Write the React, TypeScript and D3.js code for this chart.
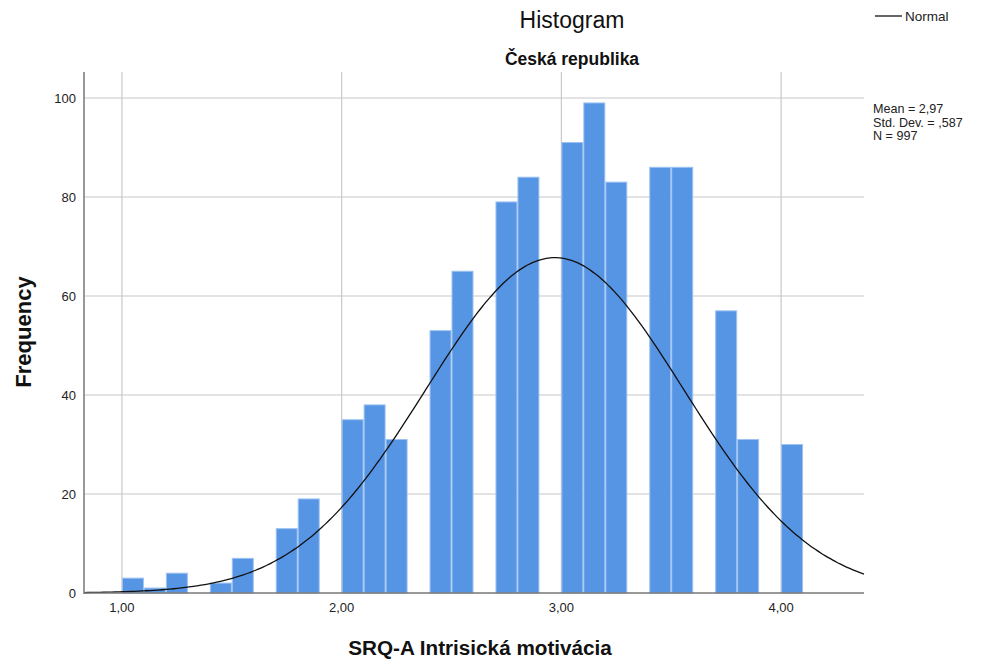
import { useEffect, useRef } from 'react';
import * as d3 from 'd3';

// bin lower edges (width 0.1) and counts
const binStarts = [1.0, 1.1, 1.2, 1.3, 1.4, 1.5, 1.6, 1.7, 1.8, 1.9, 2.0, 2.1, 2.2, 2.3, 2.4, 2.5, 2.6, 2.7, 2.8, 2.9, 3.0, 3.1, 3.2, 3.3, 3.4, 3.5, 3.6, 3.7, 3.8, 3.9, 4.0];
const binCounts = [3, 1, 4, 0, 2, 7, 0, 13, 19, 0, 35, 38, 31, 0, 53, 65, 0, 79, 84, 0, 91, 99, 83, 0, 86, 86, 0, 57, 31, 0, 30];
const binWidth = 0.1;

const xTicks = [1, 2, 3, 4];
const yTicks = [0, 20, 40, 60, 80, 100];

const mean = 2.97;
const stdDev = 0.587;
const n = 997;
const statLines = ['Mean = 2,97', 'Std. Dev. = ,587', 'N = 997'];

const W = 982;
const H = 662;
const FONT = '"Liberation Sans", Arial, sans-serif';

export default function App() {
  const svgRef = useRef<SVGSVGElement>(null);

  useEffect(() => {
    if (!svgRef.current) return;
    const svg = d3.select(svgRef.current);
    svg.selectAll('*').remove();

    const left = 84, right = 864, top = 72, bottom = 593;

    const x = d3.scaleLinear().domain([0.8273, 4.3773]).range([left, right]);
    const y = d3.scaleLinear().domain([0, 100]).range([bottom, 98]);

    const grid = svg.append('g');
    // horizontal gridlines
    grid.selectAll('line.h')
      .data(yTicks.filter(t => t > 0))
      .enter()
      .append('line')
      .attr('x1', left).attr('x2', right)
      .attr('y1', d => y(d)).attr('y2', d => y(d))
      .attr('stroke', '#c8c8c8').attr('stroke-width', 1.2);
    // vertical gridlines
    grid.selectAll('line.v')
      .data(xTicks)
      .enter()
      .append('line')
      .attr('x1', d => x(d)).attr('x2', d => x(d))
      .attr('y1', top).attr('y2', bottom)
      .attr('stroke', '#c8c8c8').attr('stroke-width', 1.2);

    // bars
    const bins = binStarts.map((s, i) => ({ s, c: binCounts[i] })).filter(d => d.c > 0);
    svg.append('g')
      .selectAll('rect')
      .data(bins)
      .enter()
      .append('rect')
      .attr('x', d => x(d.s) + 0.5)
      .attr('width', d => x(d.s + binWidth) - x(d.s) - 1)
      .attr('y', d => y(d.c))
      .attr('height', d => bottom - y(d.c))
      .attr('fill', '#5694e4')
      .attr('stroke', '#9cc2f2')
      .attr('stroke-width', 1);

    // fitted normal curve
    const [x0, x1] = x.domain();
    const xs = d3.range(0, 201).map(i => x0 + (x1 - x0) * i / 200);
    const expected = (v: number) =>
      n * binWidth * Math.exp(-0.5 * ((v - mean) / stdDev) ** 2) / (stdDev * Math.sqrt(2 * Math.PI));
    svg.append('path')
      .datum(xs)
      .attr('d', d3.line<number>().x(v => x(v)).y(v => y(expected(v))).curve(d3.curveBasis))
      .attr('fill', 'none')
      .attr('stroke', '#111')
      .attr('stroke-width', 1.3);

    // axis lines
    svg.append('line')
      .attr('x1', left).attr('x2', left).attr('y1', top).attr('y2', bottom + 1)
      .attr('stroke', '#777').attr('stroke-width', 1.5);
    svg.append('line')
      .attr('x1', left).attr('x2', right).attr('y1', bottom).attr('y2', bottom)
      .attr('stroke', '#777').attr('stroke-width', 1.5);

    // tick labels
    svg.append('g')
      .selectAll('text')
      .data(yTicks)
      .enter()
      .append('text')
      .attr('x', 76)
      .attr('y', d => y(d) + 5)
      .attr('text-anchor', 'end')
      .attr('font-family', FONT)
      .attr('font-size', 13)
      .attr('fill', '#222')
      .text(d => d);
    svg.append('g')
      .selectAll('text')
      .data(xTicks)
      .enter()
      .append('text')
      .attr('x', d => x(d))
      .attr('y', 612)
      .attr('text-anchor', 'middle')
      .attr('font-family', FONT)
      .attr('font-size', 13)
      .attr('fill', '#222')
      .text(d => d.toFixed(2).replace('.', ','));

    // titles
    svg.append('text')
      .attr('x', 572).attr('y', 28)
      .attr('text-anchor', 'middle')
      .attr('font-family', FONT).attr('font-size', 23)
      .attr('fill', '#111')
      .text('Histogram');
    svg.append('text')
      .attr('x', 572).attr('y', 65)
      .attr('text-anchor', 'middle')
      .attr('font-family', FONT).attr('font-size', 17.5).attr('font-weight', 'bold')
      .attr('fill', '#111')
      .text('Česká republika');
    svg.append('text')
      .attr('transform', `translate(31,${332}) rotate(-90)`)
      .attr('text-anchor', 'middle')
      .attr('font-family', FONT).attr('font-size', 22).attr('font-weight', 'bold')
      .attr('fill', '#111')
      .text('Frequency');
    svg.append('text')
      .attr('x', 480).attr('y', 655)
      .attr('text-anchor', 'middle')
      .attr('font-family', FONT).attr('font-size', 20.7).attr('font-weight', 'bold')
      .attr('fill', '#111')
      .text('SRQ-A Intrisická motivácia');

    // legend
    svg.append('line')
      .attr('x1', 875).attr('x2', 902).attr('y1', 16).attr('y2', 16)
      .attr('stroke', '#333').attr('stroke-width', 1.5);
    svg.append('text')
      .attr('x', 905).attr('y', 21)
      .attr('font-family', FONT).attr('font-size', 13.5)
      .attr('fill', '#222')
      .text('Normal');

    // stats
    svg.append('g')
      .selectAll('text')
      .data(statLines)
      .enter()
      .append('text')
      .attr('x', 873)
      .attr('y', (_, i) => 113 + i * 13.5)
      .attr('font-family', FONT).attr('font-size', 12.6)
      .attr('fill', '#222')
      .text(d => d);
  }, []);

  return (
    <svg
      ref={svgRef}
      width={W}
      height={H}
      style={{ position: 'absolute', left: 0, top: 0, background: '#fff' }}
    />
  );
}
